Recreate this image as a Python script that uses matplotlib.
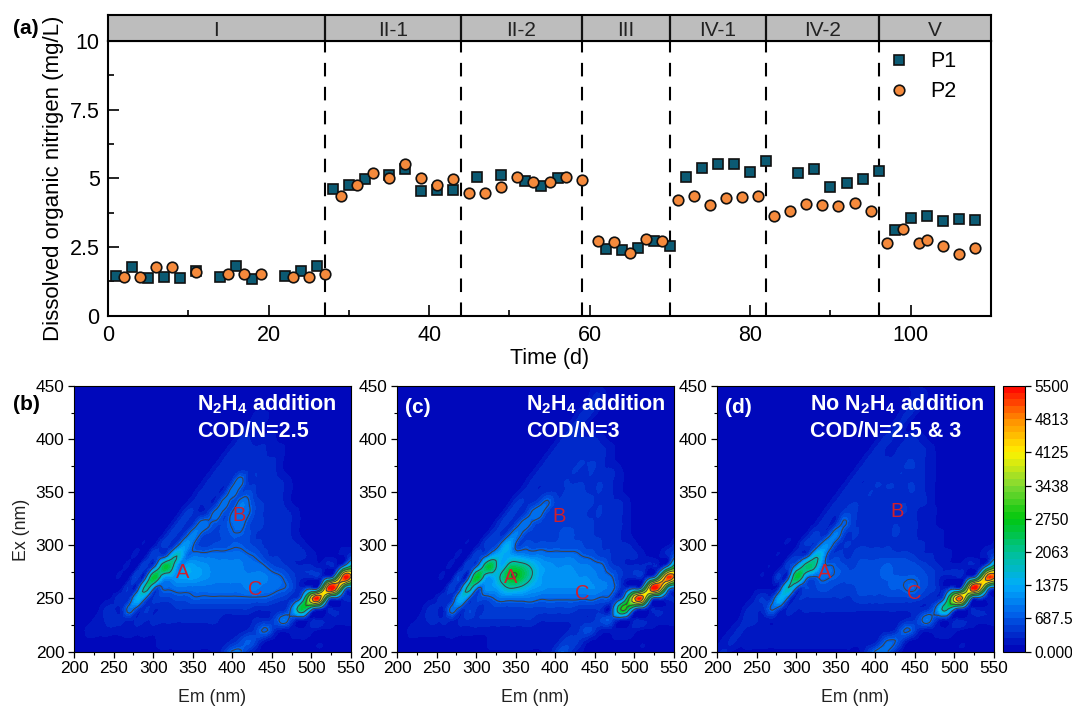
import matplotlib
matplotlib.use('Agg')
import matplotlib.pyplot as plt
import matplotlib.tri as mtri
import numpy as np
from matplotlib.colors import LinearSegmentedColormap
from matplotlib.ticker import MultipleLocator

plt.rcParams['font.family'] = ['Liberation Sans', 'DejaVu Sans']
plt.rcParams['mathtext.fontset'] = 'custom'
plt.rcParams['mathtext.bf'] = 'Liberation Sans:bold'
plt.rcParams['mathtext.rm'] = 'Liberation Sans'

# panel (a)
p1_day = [1, 3, 5, 7, 9, 11, 14, 16, 18, 22, 24, 26, 28, 30, 32, 35, 37, 39, 41, 43,
          46, 49, 52, 54, 56, 62, 64, 66, 68, 70, 72, 74, 76, 78, 80, 82,
          86, 88, 90, 92, 94, 96, 98, 100, 102, 104, 106, 108]
p1_don = [1.45, 1.76, 1.37, 1.41, 1.37, 1.63, 1.42, 1.79, 1.33, 1.45, 1.63, 1.79,
          4.6, 4.74, 4.97, 5.13, 5.35, 4.53, 4.57, 4.59,
          5.06, 5.13, 4.9, 4.72, 5.0, 2.43, 2.38, 2.45, 2.73, 2.52,
          5.04, 5.37, 5.53, 5.51, 5.22, 5.62,
          5.2, 5.33, 4.68, 4.83, 4.98, 5.25, 3.13, 3.56, 3.62, 3.45, 3.53, 3.48]
p2_day = [2, 4, 6, 8, 11, 15, 17, 19, 23, 25, 27, 29, 31, 33, 35, 37, 39, 41, 43,
          45, 47, 49, 51, 53, 55, 57, 59, 61, 63, 65, 67, 69, 71, 73, 75, 77, 79, 81,
          83, 85, 87, 89, 91, 93, 95, 97, 99, 101, 102, 104, 106, 108]
p2_don = [1.41, 1.42, 1.75, 1.75, 1.57, 1.51, 1.51, 1.51, 1.4, 1.41, 1.5,
          4.35, 4.74, 5.18, 5.0, 5.53, 5.0, 4.75, 4.96,
          4.47, 4.48, 4.67, 5.03, 4.88, 4.88, 5.03, 4.94,
          2.73, 2.68, 2.29, 2.79, 2.73, 4.2, 4.34, 4.03, 4.29, 4.33, 4.36,
          3.61, 3.81, 4.08, 4.01, 3.99, 4.09, 3.82, 2.64, 3.16, 2.65, 2.74, 2.53, 2.25, 2.47]
phase_edges = [0, 27, 44, 59, 70, 82, 96, 110]
phase_names = ['I', 'II-1', 'II-2', 'III', 'IV-1', 'IV-2', 'V']

# EEM panels, hundreds of intensity units, rows Ex 450 -> 200, columns Em 200 -> 550 in 10 nm steps
em_nm = list(range(200, 560, 10))
ex_nm = list(range(450, 190, -10))
eem_b = [
    [1,1,1,1,1,1, 1,1,1,1,1,1, 1,1,1,1,1,1, 1,1,1,1,1,1, 1,1,1,1,1,1, 1,1,1,1,1,1],
    [1,1,1,1,1,1, 1,1,1,1,1,1, 1,1,1,1,1,1, 1,1,1,1,1,1, 1,1,1,1,1,1, 1,1,1,1,1,1],
    [1,1,1,1,1,1, 1,1,1,1,1,1, 1,1,1,1,1,1, 1,1,1,1,1,1, 1,1,1,1,1,1, 1,1,1,1,1,1],
    [1,1,1,1,1,1, 1,1,1,1,1,1, 1,1,1,1,1,1, 1,1,1,1,1,2, 2,1,1,1,1,1, 1,1,1,1,1,1],
    [1,1,1,1,1,1, 1,1,1,1,1,1, 1,1,1,1,1,1, 1,1,1,1,2,2, 1,1,1,1,1,1, 1,1,1,1,1,1],
    [1,1,1,1,1,1, 1,1,1,1,1,1, 1,1,1,1,1,1, 1,1,1,3,3,2, 2,2,1,1,1,1, 1,1,1,1,1,1],
    [1,1,1,1,1,1, 1,1,1,1,1,1, 1,1,1,1,1,1, 1,1,3,3,3,3, 3,2,2,1,1,1, 1,1,1,1,1,1],
    [1,1,1,1,1,1, 1,1,1,1,1,1, 1,1,1,1,1,1, 1,3,3,3,3,3, 3,3,2,1,1,1, 1,1,1,1,1,1],
    [1,1,1,1,1,1, 1,1,1,1,1,1, 1,1,1,1,1,1, 3,3,3,4,4,4, 3,3,2,1,1,1, 1,1,1,1,1,1],
    [1,1,1,1,1,1, 1,1,1,1,1,1, 1,1,1,1,1,3, 3,3,5,9,4,4, 3,3,3,2,1,1, 1,1,1,1,1,1],
    [1,1,1,1,1,1, 1,1,1,1,1,1, 1,1,1,1,3,3, 3,4,9,6,6,4, 3,3,3,2,1,1, 1,1,1,1,1,1],
    [1,1,1,1,1,1, 1,1,1,1,1,1, 1,1,1,3,3,3, 4,9,6,9,8,5, 4,3,3,2,1,1, 1,1,1,1,1,1],
    [1,1,1,1,1,1, 1,1,1,1,1,1, 1,1,4,4,3,5, 9,6,8,9,8,5, 4,3,3,3,2,1, 1,1,1,1,1,1],
    [1,1,1,1,1,1, 1,1,1,1,1,1, 1,4,4,4,9,8, 6,6,8,9,6,5, 4,3,3,3,2,1, 1,1,1,1,1,1],
    [1,1,1,1,1,1, 1,1,1,1,1,1, 4,4,5,10,7,5, 5,6,7,7,6,4, 4,3,3,3,2,1, 1,1,1,1,1,1],
    [1,1,1,1,1,1, 1,1,1,1,1,4, 4,6,12,8,5,5, 6,6,7,7,6,5, 4,4,3,3,3,2, 1,1,1,1,1,1],
    [1,1,1,1,1,1, 1,1,1,1,5,5, 10,18,10,9,9,9, 9,9,9,9,8,7, 5,4,4,3,3,3, 2,1,1,1,1,4],
    [1,1,1,1,1,1, 1,1,1,5,5,20, 24,12,12,13,12,11, 10,10,10,10,9,9, 8,6,5,4,3,3, 3,2,2,2,8,20],
    [1,1,1,1,1,1, 1,1,5,5,25,16, 12,12,13,13,12,11, 10,10,10,10,10,10, 10,9,8,6,4,3, 3,3,4,15,50,45],
    [1,1,1,1,1,1, 1,4,4,20,10,7, 8,9,9,9,9,9, 9,9,9,9,10,10, 9,9,8,7,4,3, 3,8,48,52,20,8],
    [1,1,1,1,1,2, 4,4,14,8,4,5, 5,6,6,7,7,7, 7,7,7,7,7,7, 7,6,5,4,4,15, 42,50,15,5,3,3],
    [1,1,1,1,3,3, 3,9,5,4,3,3, 3,4,4,4,4,4, 4,4,4,4,4,3, 3,3,3,5,15,24, 10,3,2,2,2,2],
    [1,1,1,2,3,4, 3,3,3,3,3,3, 3,3,3,3,3,3, 3,2,2,2,2,3, 3,4,8,8,3,2, 2,2,2,2,2,2],
    [1,1,2,2,2,2, 2,2,2,2,2,2, 2,2,2,2,2,2, 2,2,2,2,3,5, 8,5,2,2,2,2, 2,1,1,1,1,1],
    [1,1,1,1,1,1, 1,1,1,1,1,2, 2,2,2,2,2,2, 2,2,3,5,7,5, 2,1,1,1,1,1, 1,1,1,1,1,1],
    [1,1,1,1,1,1, 1,1,1,1,1,1, 1,1,1,1,1,1, 2,4,8,8,4,2, 1,1,1,1,1,1, 1,1,1,1,1,1],
]
eem_c = [
    [1,1,1,1,1,1, 1,1,1,1,1,1, 1,1,1,1,1,1, 1,1,1,1,1,1, 1,2,1,1,1,1, 1,1,1,1,1,1],
    [1,1,1,1,1,1, 1,1,1,1,1,1, 1,1,1,1,1,1, 1,1,1,1,1,1, 1,3,2,1,1,1, 1,1,1,1,1,1],
    [1,1,1,1,1,1, 1,1,1,1,1,1, 1,1,1,1,1,1, 1,1,1,1,1,1, 3,3,1,1,1,1, 1,1,1,1,1,1],
    [1,1,1,1,1,1, 1,1,1,1,1,1, 1,1,1,1,1,1, 1,1,1,1,1,3, 3,1,1,1,1,1, 1,1,1,1,1,1],
    [1,1,1,1,1,1, 1,1,1,1,1,1, 1,1,1,1,1,1, 1,1,1,1,3,3, 1,1,1,1,1,1, 1,1,1,1,1,1],
    [1,1,1,1,1,1, 1,1,1,1,1,1, 1,1,1,1,1,1, 1,1,1,3,3,3, 3,3,2,1,1,1, 1,1,1,1,1,1],
    [1,1,1,1,1,1, 1,1,1,1,1,1, 1,1,1,1,1,1, 1,1,3,3,3,3, 3,3,3,2,1,1, 1,1,1,1,1,1],
    [1,1,1,1,1,1, 1,1,1,1,1,1, 1,1,1,1,1,1, 1,3,3,3,3,4, 4,4,3,2,1,1, 1,1,1,1,1,1],
    [1,1,1,1,1,1, 1,1,1,1,1,1, 1,1,1,1,1,1, 3,3,3,3,4,4, 4,4,3,3,2,1, 1,1,1,1,1,1],
    [1,1,1,1,1,1, 1,1,1,1,1,1, 1,1,1,1,1,3, 3,3,3,4,4,4, 4,4,4,3,2,1, 1,1,1,1,1,1],
    [1,1,1,1,1,1, 1,1,1,1,1,1, 1,1,1,1,3,3, 3,4,4,4,5,5, 4,4,4,3,2,1, 1,1,1,1,1,1],
    [1,1,1,1,1,1, 1,1,1,1,1,1, 1,1,1,4,4,4, 6,8,5,5,5,5, 5,4,4,3,3,2, 1,1,1,1,1,1],
    [1,1,1,1,1,1, 1,1,1,1,1,1, 1,1,4,4,4,8, 9,5,5,5,5,5, 4,4,4,3,3,2, 1,1,1,1,1,1],
    [1,1,1,1,1,1, 1,1,1,1,1,1, 1,4,4,5,9,7, 5,5,5,5,5,5, 5,4,4,3,3,2, 1,1,1,1,1,1],
    [1,1,1,1,1,1, 1,1,1,1,1,1, 4,4,6,10,6,5, 5,5,5,6,6,5, 5,4,4,4,3,2, 1,1,1,1,1,1],
    [1,1,1,1,1,1, 1,1,1,1,1,4, 5,8,14,7,6,6, 6,6,6,6,6,6, 5,5,4,4,3,3, 2,1,1,1,1,3],
    [1,1,1,1,1,1, 1,1,1,1,5,6, 12,14,13,12,11,10, 10,9,9,9,9,8, 7,6,5,4,3,3, 3,2,1,1,2,6],
    [1,1,1,1,1,1, 1,1,1,5,7,20, 24,14,20,23,21,17, 13,12,11,11,11,10, 10,9,8,5,4,3, 3,3,2,2,6,22],
    [1,1,1,1,1,1, 1,1,5,5,26,16, 13,18,25,27,23,18, 13,12,12,12,12,11, 11,10,9,8,5,3, 3,3,4,18,48,45],
    [1,1,1,1,1,1, 1,5,5,20,10,10, 12,14,18,18,16,13, 12,11,11,11,11,11, 11,11,10,9,5,3, 4,10,46,52,22,8],
    [1,1,1,1,1,2, 4,4,14,8,5,6, 7,9,9,9,9,9, 8,8,8,8,8,8, 8,8,7,6,4,18, 44,48,14,5,3,3],
    [1,1,1,1,3,3, 3,9,5,5,4,4, 5,5,5,5,5,5, 5,5,5,5,5,4, 4,4,3,3,22,26, 8,3,2,2,2,2],
    [1,1,1,2,3,3, 3,3,3,4,4,4, 4,4,4,4,4,4, 3,3,3,3,3,3, 3,4,6,6,3,2, 2,2,2,2,2,2],
    [1,1,2,2,2,2, 2,2,2,2,2,2, 2,2,2,2,2,2, 2,2,2,2,3,4, 6,4,2,2,2,2, 2,1,1,1,1,1],
    [1,1,1,1,1,1, 1,1,1,1,1,1, 2,2,2,2,2,2, 2,2,2,4,5,4, 2,1,1,1,1,1, 1,1,1,1,1,1],
    [1,1,1,1,1,1, 1,1,1,1,1,1, 1,1,1,1,1,1, 1,2,4,7,4,2, 1,1,1,1,1,1, 1,1,1,1,1,1],
]
eem_d = [
    [1,1,1,1,1,1, 1,1,1,1,1,1, 1,1,1,1,1,1, 1,1,1,1,1,1, 1,2,1,1,1,1, 1,1,1,1,1,1],
    [1,1,1,1,1,1, 1,1,1,1,1,1, 1,1,1,1,1,1, 1,1,1,1,1,1, 1,2,2,1,1,1, 1,1,1,1,1,1],
    [1,1,1,1,1,1, 1,1,1,1,1,1, 1,1,1,1,1,1, 1,1,1,1,1,1, 2,3,1,1,1,1, 1,1,1,1,1,1],
    [1,1,1,1,1,1, 1,1,1,1,1,1, 1,1,1,1,1,1, 1,1,1,1,1,2, 3,1,1,1,1,1, 1,1,1,1,1,1],
    [1,1,1,1,1,1, 1,1,1,1,1,1, 1,1,1,1,1,1, 1,1,1,1,2,3, 1,1,1,1,1,1, 1,1,1,1,1,1],
    [1,1,1,1,1,1, 1,1,1,1,1,1, 1,1,1,1,1,1, 1,1,1,3,3,2, 3,3,2,1,1,1, 1,1,1,1,1,1],
    [1,1,1,1,1,1, 1,1,1,1,1,1, 1,1,1,1,1,1, 1,1,3,3,2,3, 3,3,3,2,1,1, 1,1,1,1,1,1],
    [1,1,1,1,1,1, 1,1,1,1,1,1, 1,1,1,1,1,1, 1,3,3,3,3,3, 4,4,3,2,1,1, 1,1,1,1,1,1],
    [1,1,1,1,1,1, 1,1,1,1,1,1, 1,1,1,1,1,1, 3,3,3,3,3,4, 4,4,3,2,1,1, 1,1,1,1,1,1],
    [1,1,1,1,1,1, 1,1,1,1,1,1, 1,1,1,1,1,3, 3,3,4,4,4,4, 4,4,3,2,1,1, 1,1,1,1,1,1],
    [1,1,1,1,1,1, 1,1,1,1,1,1, 1,1,1,1,3,3, 3,4,4,4,4,4, 4,4,3,2,1,1, 1,1,1,1,1,1],
    [1,1,1,1,1,1, 1,1,1,1,1,1, 1,1,1,3,3,4, 4,4,4,4,4,4, 4,3,3,2,1,1, 1,1,1,1,1,1],
    [1,1,1,1,1,1, 1,1,1,1,1,1, 1,1,3,3,5,5, 4,4,4,4,4,4, 4,3,2,2,1,1, 1,1,1,1,1,1],
    [1,1,1,1,1,1, 1,1,1,1,1,1, 1,3,3,4,8,5, 4,4,4,4,4,4, 3,3,2,2,1,1, 1,1,1,1,1,1],
    [1,1,1,1,1,1, 1,1,1,1,1,1, 4,4,5,10,5,4, 4,4,4,4,4,4, 3,3,2,2,2,1, 1,1,1,1,1,1],
    [1,1,1,1,1,1, 1,1,1,1,1,4, 4,8,11,5,4,4, 4,4,4,4,4,3, 3,3,3,2,2,1, 1,1,1,1,1,2],
    [1,1,1,1,1,1, 1,1,1,1,4,4, 12,16,6,5,4,4, 5,5,5,5,5,5, 5,4,3,3,2,2, 1,1,1,1,2,5],
    [1,1,1,1,1,1, 1,1,1,5,10,20, 22,12,8,7,6,5, 6,6,6,7,7,6, 6,6,5,4,3,2, 2,2,2,2,8,22],
    [1,1,1,1,1,1, 1,1,4,5,25,14, 7,8,8,7,6,6, 6,6,6,7,7,7, 7,7,6,5,3,2, 2,2,4,16,46,48],
    [1,1,1,1,1,1, 1,1,5,18,8,5, 5,6,6,5,5,5, 6,6,6,6,7,7, 8,8,6,5,3,2, 3,8,46,50,20,6],
    [1,1,1,1,1,3, 4,5,14,6,3,4, 4,4,4,4,4,4, 5,5,5,5,5,5, 5,5,4,3,3,14, 40,46,12,4,2,2],
    [1,1,1,1,3,3, 4,8,4,3,3,3, 3,3,3,3,3,3, 3,3,3,3,3,3, 3,3,3,5,12,20, 8,3,2,2,2,2],
    [1,1,1,2,4,3, 2,2,2,2,2,2, 2,2,2,2,2,2, 2,2,2,2,2,2, 3,4,8,8,3,2, 2,2,2,2,2,2],
    [1,1,2,3,2,2, 2,2,2,2,2,2, 2,2,2,2,2,2, 2,2,2,2,2,5, 8,5,2,2,2,2, 2,1,1,1,1,1],
    [1,2,3,2,2,2, 2,2,2,2,2,2, 2,2,2,2,2,2, 2,2,2,6,8,6, 2,1,1,1,1,1, 1,1,1,1,1,1],
    [2,3,1,1,1,1, 1,1,1,1,1,1, 1,1,1,1,1,1, 1,4,8,9,6,2, 1,1,1,1,1,1, 1,1,1,1,1,1],
]
cbar_ticks = [0, 687.5, 1375, 2063, 2750, 3438, 4125, 4813, 5500]
cbar_labels = ['0.000', '687.5', '1375', '2063', '2750', '3438', '4125', '4813', '5500']

W, H = 1072.0, 706.0


def px_axes(left, top, right, bottom):
    return fig.add_axes([left / W, 1 - bottom / H, (right - left) / W, (bottom - top) / H])


eem_cmap = LinearSegmentedColormap.from_list('eem', [
    (0.0, (0.0, 0.0, 0.72)), (0.07, (0.0, 0.18, 0.8)), (0.14, (0.0, 0.38, 0.92)),
    (0.25, (0.0, 0.68, 0.98)), (0.375, (0.0, 0.76, 0.58)), (0.5, (0.0, 0.78, 0.05)),
    (0.625, (0.5, 0.85, 0.2)), (0.75, (1.0, 0.95, 0.0)), (0.875, (1.0, 0.55, 0.0)),
    (1.0, (1.0, 0.0, 0.0))])

fig = plt.figure(figsize=(W / 100, H / 100), dpi=100)

# (a)
ax = px_axes(108, 41, 991, 315.5)
for x in phase_edges[1:-1]:
    ax.axvline(x, color='black', lw=1.5, ls=(0, (6.5, 5)), zorder=1)
ax.plot(p1_day, p1_don, ls='none', marker='s', ms=7.2, mfc='#0b5a73', mec='#111111', mew=1.2,
        label='P1', zorder=3, clip_on=False)
ax.plot(p2_day, p2_don, ls='none', marker='o', ms=7.6, mfc='#f58a3c', mec='#111111', mew=1.2,
        label='P2', zorder=4, clip_on=False)
ax.set_xlim(0, 110)
ax.set_ylim(0, 10)
ax.set_xticks([0, 20, 40, 60, 80, 100])
ax.xaxis.set_minor_locator(MultipleLocator(10))
ax.set_yticks([0, 2.5, 5, 7.5, 10])
ax.set_yticklabels(['0', '2.5', '5', '7.5', '10'])
ax.yaxis.set_minor_locator(MultipleLocator(1.25))
ax.tick_params(which='major', direction='in', length=8, width=1.2, labelsize=15.5, pad=7)
ax.tick_params(which='minor', direction='in', length=4, width=1.2)
ax.tick_params(axis='y', pad=6)
ax.set_xlabel('Time (d)', fontsize=15.5, labelpad=1)
ax.set_ylabel('Dissolved organic nitrigen (mg/L)', fontsize=16)
ax.yaxis.set_label_coords(-0.05, 0.5)
for s in ax.spines.values():
    s.set_linewidth(1.5)
ax.legend(loc='upper right', frameon=False, fontsize=15.5, handletextpad=0.45,
          bbox_to_anchor=(0.975, 1.01), labelspacing=0.42, borderaxespad=0.2)

band = px_axes(108, 14.5, 991, 41)
band.set_facecolor('#bdbdbd')
band.set_xlim(0, 110)
band.set_ylim(0, 1)
band.set_xticks([])
band.set_yticks([])
for i, name in enumerate(phase_names):
    band.text((phase_edges[i] + phase_edges[i + 1]) / 2, 0.38, name, ha='center', va='center',
              fontsize=15, color='#222222')
    if i > 0:
        band.axvline(phase_edges[i], color='#111111', lw=1.6)
for s in band.spines.values():
    s.set_linewidth(1.5)

fig.text(13 / W, 1 - 29 / H, '(a)', fontsize=15, fontweight='bold', va='center')
fig.text(13 / W, 1 - 404 / H, '(b)', fontsize=15, fontweight='bold', va='center')

# (b) (c) (d)
panels = [
    (eem_b, 74, None, ['N$\\mathbf{_2}$H$\\mathbf{_4}$ addition', 'COD/N=2.5'], 356,
     [('A', 337, 274), ('B', 408, 328), ('C', 429.5, 258.5)]),
    (eem_c, 397, '(c)', ['N$\\mathbf{_2}$H$\\mathbf{_4}$ addition', 'COD/N=3'], 363,
     [('A', 343, 270), ('B', 405, 327), ('C', 434.6, 255)]),
    (eem_d, 717, '(d)', ['No N$\\mathbf{_2}$H$\\mathbf{_4}$ addition', 'COD/N=2.5 & 3'], 317.5,
     [('A', 336, 274), ('B', 428, 332), ('C', 449, 255)]),
]
levels = np.linspace(0, 5500, 41)
n_ex, n_em = len(ex_nm), len(em_nm)
em_grid, ex_grid = np.meshgrid(em_nm, ex_nm)
# cells split along the scatter direction so the diagonal ridges stay connected
tris = []
for r in range(n_ex - 1):
    for c in range(n_em - 1):
        tris.append([(r + 1) * n_em + c, (r + 1) * n_em + c + 1, r * n_em + c + 1])
        tris.append([(r + 1) * n_em + c, r * n_em + c + 1, r * n_em + c])
tri_grid = mtri.Triangulation(em_grid.ravel().astype(float), ex_grid.ravel().astype(float), tris)
refiner = mtri.UniformTriRefiner(tri_grid)
for grid, left, tag, lines, text_x, peaks in panels:
    a = px_axes(left, 386, left + 277, 651.5)
    z = np.array(grid, dtype=float) * 100
    fine_tri, fine_z = refiner.refine_field(z.ravel(), subdiv=2)
    fine_z = np.clip(fine_z, 60, 5490)
    cs = a.tricontourf(fine_tri, fine_z, levels=levels, cmap=eem_cmap)
    a.tricontour(fine_tri, fine_z, levels=[750, 1800, 2700, 3600, 4500], colors='#404040', linewidths=0.7)
    a.set_xlim(200, 550)
    a.set_ylim(200, 450)
    a.set_xticks(range(200, 551, 50))
    a.set_yticks(range(200, 451, 50))
    a.xaxis.set_minor_locator(MultipleLocator(25))
    a.yaxis.set_minor_locator(MultipleLocator(25))
    a.tick_params(which='major', length=4, width=0.9, labelsize=12.4, pad=3)
    a.tick_params(which='minor', length=2.2, width=0.8)
    a.set_xlabel('Em (nm)', fontsize=12.8, labelpad=9, color='#222222')
    for s in a.spines.values():
        s.set_linewidth(0.8)
    a.text(text_x, 433, lines[0], color='white', fontsize=15.5, fontweight='bold', va='center')
    a.text(text_x, 407.5, lines[1], color='white', fontsize=15.5, fontweight='bold', va='center')
    if tag:
        a.text(210, 430, tag, color='white', fontsize=15, fontweight='bold', va='center')
    for name, x, y in peaks:
        a.text(x, y, name, color='#cf1f2e', fontsize=14.5, ha='center', va='center')
    if left == 74:
        a.set_ylabel('Ex (nm)', fontsize=12.8, color='#222222')
        a.yaxis.set_label_coords(-0.16, 0.457)

cax = px_axes(1003, 386, 1025, 651.5)
cb = fig.colorbar(cs, cax=cax)
cb.set_ticks(cbar_ticks)
cb.set_ticklabels(cbar_labels)
cb.ax.minorticks_off()
cb.ax.tick_params(length=4, width=0.9, labelsize=11.2, pad=3)
cb.outline.set_linewidth(0.8)

fig.savefig('out.png', dpi=100)
